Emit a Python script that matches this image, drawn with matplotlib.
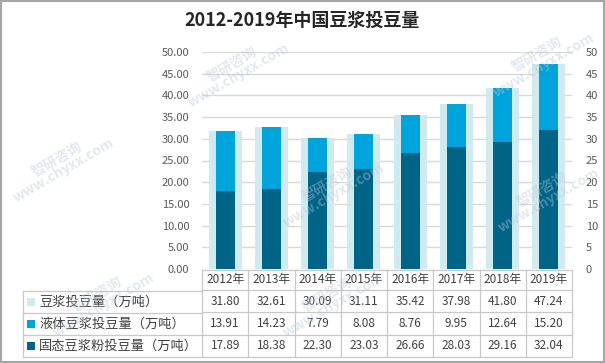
import matplotlib.pyplot as plt
from matplotlib.patches import Rectangle
import matplotlib.transforms as mtransforms

plt.rcParams['font.family'] = ['Noto Sans CJK SC', 'DejaVu Sans']

years = ['2012年', '2013年', '2014年', '2015年', '2016年', '2017年', '2018年', '2019年']
total = [31.80, 32.61, 30.09, 31.11, 35.42, 37.98, 41.80, 47.24]
liquid = [13.91, 14.23, 7.79, 8.08, 8.76, 9.95, 12.64, 15.20]
solid = [17.89, 18.38, 22.30, 23.03, 26.66, 28.03, 29.16, 32.04]
series_names = ['豆浆投豆量（万吨）', '液体豆浆投豆量（万吨）', '固态豆浆粉投豆量（万吨）']

C_TOTAL = '#d0ebf0'
C_LIQ = '#00a4dc'
C_SOLID = '#006487'
TXT = '#404040'
GRID = '#d9d9d9'

fig = plt.figure(figsize=(6.05, 3.63), dpi=100)
W, H = 605, 363
ax = fig.add_axes([202 / W, 1 - 269 / H, 370 / W, 217 / H])
ax2 = ax.twinx()

x = list(range(len(years)))
ax.bar(x, total, width=0.71, color=C_TOTAL, zorder=2)
ax.bar(x, solid, width=0.41, color=C_SOLID, zorder=3)
ax.bar(x, liquid, width=0.41, bottom=solid, color=C_LIQ, zorder=3)

ax.set_xlim(-0.5, len(years) - 0.5)
ax.set_ylim(0, 50)
ax2.set_ylim(0, 50)
ticks = list(range(0, 55, 5))
ax.set_yticks(ticks)
ax.set_yticklabels(['%.2f' % t for t in ticks])
ax2.set_yticks(ticks)
ax2.set_yticklabels([str(t) for t in ticks])
ax.set_xticks([])
for a in (ax, ax2):
    for s in a.spines.values():
        s.set_visible(False)
    a.tick_params(axis='y', length=0, labelsize=8, labelcolor='#595959')
ax.tick_params(axis='y', pad=9)
ax2.tick_params(axis='y', pad=10)
ax.yaxis.grid(True, color=GRID, linewidth=1, zorder=0)
ax.set_axisbelow(True)

# data table below the plot
trans = mtransforms.blended_transform_factory(ax.transData, ax.transAxes)
px = 1 / 217.0
hdr_top, hdr_bot = -1 * px, -21 * px
row_h = 22.3 * px
row_bottoms = [hdr_bot - row_h * (i + 1) for i in range(3)]
bottom = row_bottoms[-1]
lc = '#c8c8c8'
lw = 0.9
fig_tr = fig.transFigure

def fx(p):
    return p / W

def fy(p):
    return 1 - p / H

# horizontal lines over value columns
for yy in [hdr_top, hdr_bot] + row_bottoms:
    ax.plot([-0.5, len(years) - 0.5], [yy, yy], transform=trans, color=lc, lw=lw, clip_on=False)
for i in range(len(years) + 1):
    ax.plot([i - 0.5, i - 0.5], [hdr_top, bottom], transform=trans, color=lc, lw=lw, clip_on=False)
# label column lines (figure coords)
y_rows = [291, 313, 335, 357]
for yp in y_rows:
    fig.add_artist(plt.Line2D([fx(23), fx(202)], [fy(yp), fy(yp)], transform=fig_tr, color=lc, lw=lw))
fig.add_artist(plt.Line2D([fx(23), fx(23)], [fy(291), fy(357)], transform=fig_tr, color=lc, lw=lw))

for i, yr in enumerate(years):
    ax.text(i, (hdr_top + hdr_bot) / 2, yr, transform=trans, ha='center', va='center',
            fontsize=8.5, color=TXT)
rows = [total, liquid, solid]
colors = [C_TOTAL, C_LIQ, C_SOLID]
for r, vals in enumerate(rows):
    yc = row_bottoms[r] + row_h / 2
    for i, v in enumerate(vals):
        ax.text(i, yc, '%.2f' % v, transform=trans, ha='center', va='center',
                fontsize=8.5, color=TXT)
    ycp = (y_rows[r] + y_rows[r + 1]) / 2
    fig.add_artist(Rectangle((fx(27), fy(ycp + 4)), 8 / W, 8 / H, transform=fig_tr,
                             facecolor=colors[r], edgecolor='none'))
    fig.text(fx(39), fy(ycp), series_names[r], ha='left', va='center', fontsize=9.5, color=TXT)

fig.text(0.5, fy(20), '2012-2019年中国豆浆投豆量', ha='center', va='center',
         fontsize=13, fontweight='bold', color='#262626')

# watermark
wm = [(100, 300), (235, 70), (330, 190), (540, 60), (330, 300), (545, 195), (60, 165)]
for (wx, wy) in wm:
    fig.text(fx(wx), fy(wy), '智研咨询\nwww.chyxx.com', ha='center', va='center', rotation=30,
             fontsize=10, color='#b8c6d8', alpha=0.4, fontweight='bold', linespacing=0.9)

fig.add_artist(Rectangle((0.001, 0.002), 0.997, 0.996, transform=fig_tr, fill=False,
                         edgecolor='#a6a6a6', lw=1.5))

fig.savefig('out.png', dpi=100)
